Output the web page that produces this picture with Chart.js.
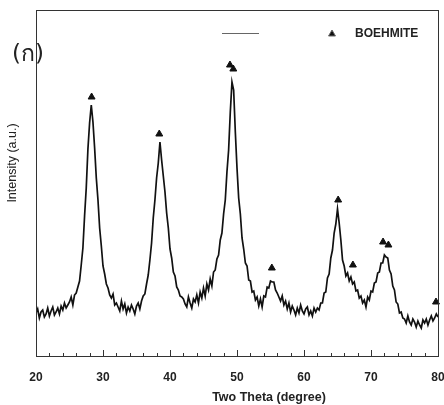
<!DOCTYPE html>
<html>
<head>
<meta charset="utf-8">
<script src="https://cdn.jsdelivr.net/npm/chart.js@4.4.1/dist/chart.umd.min.js"></script>
<style>
  body { margin: 0; background: #fff; }
</style>
</head>
<body>
<canvas id="xrdChart" width="444" height="405"></canvas>
<script>
// XRD pattern, sampled every 0.25 degree from 20 to 80
const thetaStart = 20;
const thetaStep = 0.25;
const intensity = [
  43, 47, 38, 44,   46, 39, 42, 48,   40, 45, 49, 41,   44, 48, 42, 50,   // 20-23
  46, 53, 48, 51,   54, 59, 51, 61,   63, 69, 75, 91,   108, 140, 168, 207, // 24-27
  233, 251, 234, 208,   178, 156, 128, 110,   90, 82, 72, 68,   61, 58, 62, 51, // 28-31
  53, 49, 45, 55,   47, 52, 43, 49,   45, 51, 47, 42,   50, 53, 47, 55,   // 32-35
  60, 62, 72, 81,   96, 113, 138, 156,   178, 193, 214, 196,   180, 164, 143, 128, // 36-39
  107, 98, 84, 80,   69, 66, 60, 59,   57, 52, 49, 59,   53, 48, 57, 54,   // 40-43
  61, 53, 64, 58,   68, 60, 72, 66,   77, 70, 84, 86,   97, 101, 116, 123, // 44-47
  142, 156, 184, 206,   244, 274, 266, 224,   188, 158, 142, 118,   107, 93, 90, 76, // 48-51
  75, 64, 65, 56,   59, 50, 57, 49,   60, 59, 69, 68,   75, 74, 74, 66,   // 52-55
  63, 59, 55, 60,   51, 55, 47, 53,   44, 50, 46, 41,   48, 43, 51, 45,   // 56-59
  42, 47, 49, 41,   45, 40, 48, 44,   48, 46, 53, 53,   63, 64, 78, 82,   // 60-63
  98, 106, 123, 132,   147, 133, 116, 96,   90, 80, 83, 75,   79, 72, 74, 65, // 64-67
  66, 58, 60, 53,   56, 49, 59, 56,   65, 64, 73, 74,   83, 84, 93, 93,   // 68-71
  101, 99, 98, 86,   82, 70, 66, 54,   52, 43, 44, 38,   37, 33, 40, 34,   // 72-75
  31, 37, 34, 29,   35, 31, 28, 36,   33, 37, 31, 36,   40, 35, 38, 42,   // 76-79
  39                                                                        // 80
];

// boehmite reflections marked with triangles
const boehmiteTheta = [28.3, 38.4, 48.95, 49.45, 55.2, 65.1, 67.3, 71.8, 72.6, 79.7];
const boehmiteMark = [259, 222, 291, 287, 88, 156, 91, 114, 111, 54];

const xTickValues = [20, 30, 40, 50, 60, 70, 80];

const patternPoints = intensity.map((v, i) => ({ x: thetaStart + i * thetaStep, y: v }));
const markerPoints = boehmiteTheta.map((t, i) => ({ x: t, y: boehmiteMark[i] }));

const FONT = "'Liberation Sans', Arial, sans-serif";

const decor = {
  id: "decor",
  afterDatasetsDraw(chart) {
    const { ctx, chartArea: a, scales } = chart;
    const x = scales.x;
    ctx.save();

    // frame
    ctx.strokeStyle = "#333";
    ctx.lineWidth = 1;
    ctx.strokeRect(a.left + 0.5, a.top + 0.5, a.right - a.left, a.bottom - a.top);

    // inside ticks on the bottom axis
    for (let v = 20; v <= 80; v += 2) {
      const px = Math.round(x.getPixelForValue(v)) + 0.5;
      const len = v % 10 === 0 ? 6 : 3;
      ctx.beginPath();
      ctx.moveTo(px, a.bottom);
      ctx.lineTo(px, a.bottom - len);
      ctx.stroke();
    }

    ctx.fillStyle = "#222";

    // axis titles
    ctx.font = "bold 12.5px " + FONT;
    ctx.textAlign = "center";
    ctx.textBaseline = "middle";
    ctx.fillText("Two Theta (degree)", 269, 398);

    ctx.save();
    ctx.translate(13, 163);
    ctx.rotate(-Math.PI / 2);
    ctx.font = "12.5px " + FONT;
    ctx.fillText("Intensity (a.u.)", 0, 0);
    ctx.restore();

    // panel label
    ctx.font = "23px 'DejaVu Sans', 'Noto Sans', sans-serif";
    ctx.textAlign = "center";
    ctx.fillText("(ก)", 28, 55);

    // legend
    ctx.strokeStyle = "#666";
    ctx.beginPath();
    ctx.moveTo(222, 33.5);
    ctx.lineTo(259, 33.5);
    ctx.stroke();
    ctx.fillStyle = "#111";
    Chart.helpers.drawPoint(ctx, { pointStyle: "triangle", radius: 4, rotation: 0, borderWidth: 1 }, 332, 34);
    ctx.fillStyle = "#222";
    ctx.font = "bold 12px " + FONT;
    ctx.textAlign = "left";
    ctx.fillText("BOEHMITE", 355, 34);

    ctx.restore();
  },
};

const ctx = document.getElementById("xrdChart").getContext("2d");
const chart = new Chart(ctx, {
  type: "line",
  data: {
    datasets: [
      {
        label: "pattern",
        data: patternPoints,
        borderColor: "#111",
        borderWidth: 1.7,
        pointRadius: 0,
        tension: 0,
        fill: false,
      },
      {
        label: "BOEHMITE",
        type: "scatter",
        data: markerPoints,
        pointStyle: "triangle",
        pointRadius: 4,
        backgroundColor: "#111",
        borderColor: "#111",
        borderWidth: 1,
        clip: false,
      },
    ],
  },
  options: {
    responsive: false,
    animation: false,
    layout: { padding: { left: 36, right: 6, top: 10, bottom: 0 } },
    plugins: {
      legend: { display: false },
      tooltip: { enabled: false },
    },
    scales: {
      x: {
        type: "linear",
        min: 20,
        max: 80,
        afterBuildTicks: (s) => {
          s.ticks = xTickValues.map((v) => ({ value: v }));
        },
        afterFit: (s) => {
          s.height = 49;
          s.paddingLeft = 0;
          s.paddingRight = 0;
        },
        ticks: {
          color: "#222",
          padding: 6,
          maxRotation: 0,
          font: { family: FONT, size: 12, weight: "bold" },
        },
        grid: { display: false },
        border: { display: false },
      },
      y: {
        display: false,
        min: 0,
        max: 346,
      },
    },
  },
  plugins: [decor],
});
</script>
</body>
</html>
